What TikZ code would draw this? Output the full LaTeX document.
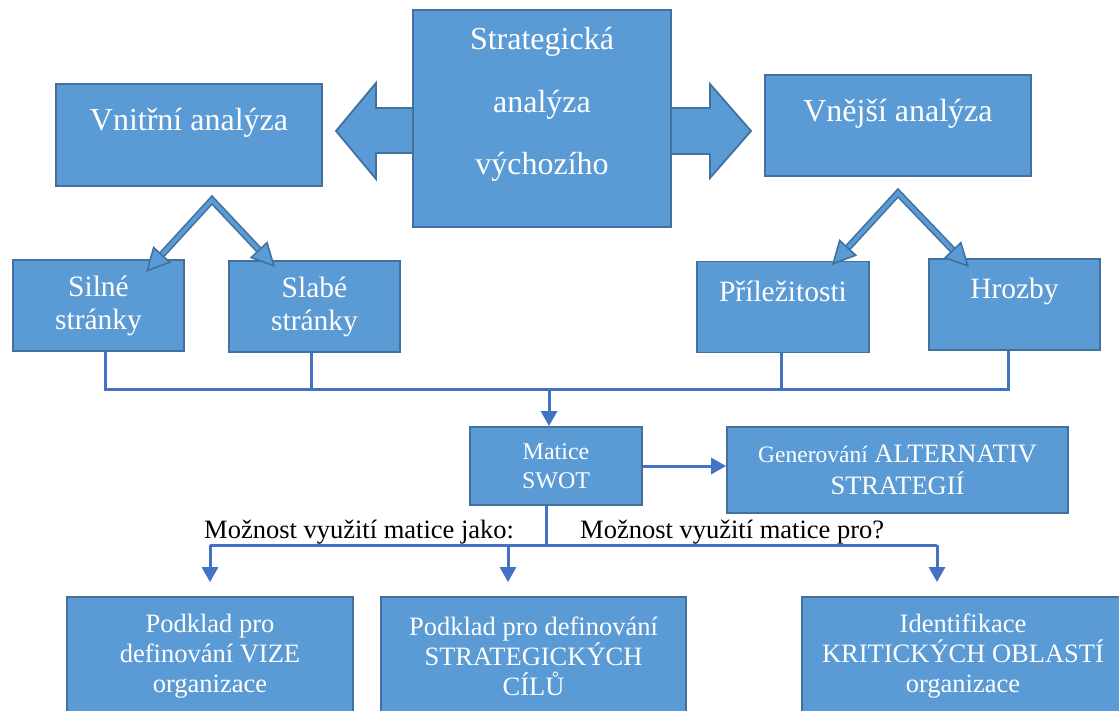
\documentclass[tikz,border=0pt]{standalone}
\usepackage{fontspec}
\setmainfont{Liberation Serif}
\usepackage{tikz}
\usetikzlibrary{arrows.meta,positioning,calc}
\definecolor{boxblue}{RGB}{91,155,213}
\definecolor{edgeblue}{RGB}{65,113,156}
\definecolor{lineblue}{RGB}{68,114,196}
\tikzset{
block/.style = {draw=edgeblue, fill=boxblue, rectangle, line width=1.8pt, inner sep=0pt, text=white, align=center},
bigblock/.style = {block, font=\fontsize{32}{38}\selectfont, minimum width=266pt},
midblock/.style = {block, font=\fontsize{29.5}{33}\selectfont, minimum width=171pt, minimum height=91pt},
lowblock/.style = {block, font=\fontsize{26.5}{30}\selectfont, minimum height=118pt},
conn/.style = {draw=lineblue, line width=3pt},
fatarrow/.style = {draw=edgeblue, fill=boxblue, line width=1.8pt, line join=miter},
dblarrow/.style = {draw=edgeblue, line width=1.6pt, double=boxblue, double distance=3.8pt, line join=miter,
    {Triangle[length=24pt, width=24pt, fill=boxblue, line width=1.6pt]}-{Triangle[length=24pt, width=24pt, fill=boxblue, line width=1.6pt]}},
note/.style = {font=\fontsize{26.5}{30}\selectfont, inner sep=0pt, anchor=base west}
}
\begin{document}
\begin{tikzpicture}[x=1pt, y=-1pt, >={Triangle[length=15pt, width=16pt]}]
    \useasboundingbox (0,0) rectangle (1119,711);
    \draw [fatarrow] (413,108) -- (376,108) -- (376,83) -- (336,131) -- (376,179) -- (376,153) -- (413,153);
    \draw [fatarrow] (671,108) -- (710,108) -- (710,84) -- (751,131) -- (710,178) -- (710,154) -- (671,154);

    \node [block, font=\fontsize{32}{62.5}\selectfont, minimum width=258pt, text height=165pt, text depth=52pt] (core) at (542,118.5) {Strategická\\analýza\\výchozího};
    \node [bigblock, text height=47pt, text depth=55pt] (vnitrni) at (189,135) {Vnitřní analýza};
    \node [bigblock, text height=46.7pt, text depth=54.3pt] (vnejsi) at (898,125.5) {Vnější analýza};
    \node [midblock] (silne) at (98.5,305.5) {Silné\\stránky};
    \node [midblock] (slabe) at (314.5,306.5) {Slabé\\stránky};
    \node [midblock, minimum width=172pt, text height=39.7pt, text depth=50.3pt] (prilez) at (783,307) {Příležitosti};
    \node [midblock, text height=39.3pt, text depth=51.7pt] (hrozby) at (1014.5,304.5) {Hrozby};
    \node [block, font=\fontsize{24}{28.7}\selectfont, minimum width=172pt, minimum height=78pt] (matice) at (556,466) {Matice\\SWOT};
    \node [block, font=\fontsize{26.5}{31.7}\selectfont, minimum width=341pt, minimum height=86pt] (altern) at (897.5,470) {{\fontsize{23.5}{31.7}\selectfont Generování} ALTERNATIV\\STRATEGIÍ};
    \node [lowblock, minimum width=286pt] (vize) at (210,656) {Podklad pro\\definování VIZE\\organizace};
    \node [lowblock, minimum width=305pt] (cile) at (533.5,656) {Podklad pro definování\\STRATEGICKÝCH\\CÍLŮ};
    \node [lowblock, minimum width=322pt] (krit) at (963,656) {Identifikace\\KRITICKÝCH OBLASTÍ\\organizace};

    \coordinate (inFork) at (212,200);
    \coordinate (silneTip) at (146,272);
    \coordinate (slabeTip) at (275,267);
    \coordinate (outFork) at (898,193);
    \coordinate (prilezTip) at (832,265);
    \coordinate (hrozbyTip) at (969,267);
    \draw [dblarrow] (silneTip) -- (inFork) -- (slabeTip);
    \draw [dblarrow] (prilezTip) -- (outFork) -- (hrozbyTip);

    \coordinate (busL) at (105,389);
    \coordinate (busS) at (311,389);
    \coordinate (busM) at (549,389);
    \coordinate (busP) at (781,389);
    \coordinate (busR) at (1008,389);
    \draw [conn] (silne.south -| busL) -- (busL) -- (busR) -- (hrozby.south -| busR);
    \draw [conn] (slabe.south -| busS) -- (busS);
    \draw [conn] (prilez.south -| busP) -- (busP);
    \draw [conn, ->] (busM) -- (matice.north -| busM);
    \draw [conn, ->] (matice.east) -- (matice.east -| altern.west);

    \coordinate (split) at (546,545);
    \coordinate (splitL) at (210,545);
    \coordinate (splitC) at (508,545);
    \coordinate (splitR) at (937,545);
    \draw [conn] (matice.south -| split) -- (split);
    \draw [conn] (splitL) -- (splitR);
    \foreach \c/\n in {splitL/vize, splitC/cile, splitR/krit}
        \draw [conn, ->, shorten >=14pt] (\c) -- (\n.north -| \c);
    \node [note] (jako) at (204,538) {Možnost využití matice jako:};
    \node [note] (pro) at (580,538) {Možnost využití matice pro?};
\end{tikzpicture}
\end{document}
